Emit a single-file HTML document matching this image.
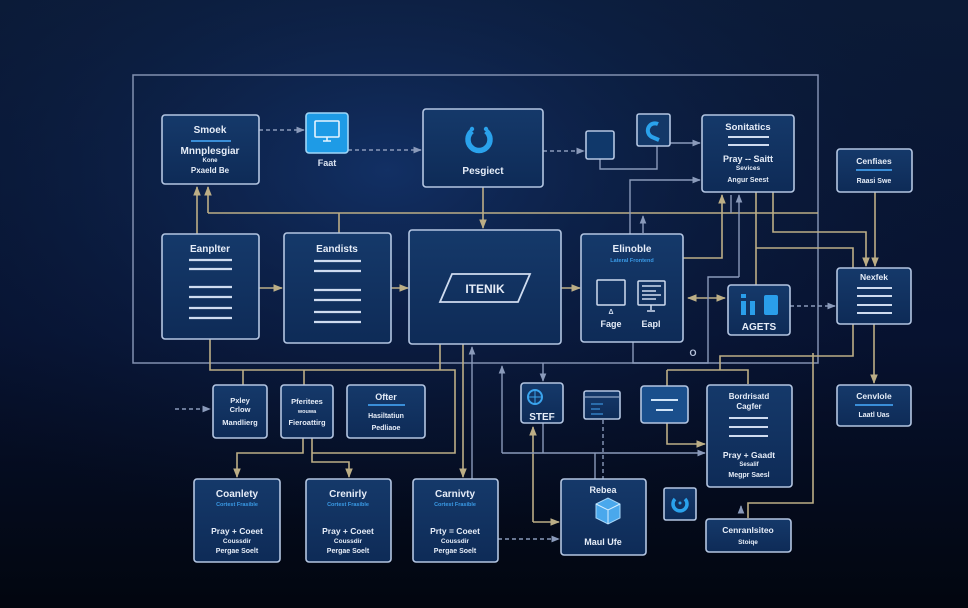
<!DOCTYPE html>
<html><head><meta charset="utf-8"><style>
html,body{margin:0;padding:0;background:#040b1c;}
svg{display:block;}
text{font-family:"Liberation Sans",sans-serif;font-weight:bold;}
</style></head><body>
<svg width="968" height="608" viewBox="0 0 968 608" xmlns="http://www.w3.org/2000/svg">
<defs>
<linearGradient id="bg" x1="0" y1="0" x2="0" y2="1">
<stop offset="0" stop-color="#0b1a36"/><stop offset="0.55" stop-color="#071230"/><stop offset="1" stop-color="#02060f"/>
</linearGradient>
<radialGradient id="glow" cx="0.4" cy="0.28" r="0.6">
<stop offset="0" stop-color="#143670" stop-opacity="0.8"/><stop offset="1" stop-color="#0a1a3a" stop-opacity="0"/>
</radialGradient>
<linearGradient id="box" x1="0" y1="0" x2="0" y2="1">
<stop offset="0" stop-color="#15396a"/><stop offset="1" stop-color="#0e2b57"/>
</linearGradient>
<marker id="at" viewBox="0 0 10 10" refX="9" refY="5" markerWidth="6" markerHeight="6" orient="auto-start-reverse"><path d="M0,1 L10,5 L0,9 z" fill="#bcae86"/></marker>
<marker id="ag" viewBox="0 0 10 10" refX="9" refY="5" markerWidth="6" markerHeight="6" orient="auto-start-reverse"><path d="M0,1 L10,5 L0,9 z" fill="#8a9aba"/></marker>
</defs>
<rect width="968" height="608" fill="url(#bg)"/>
<rect width="968" height="608" fill="url(#glow)"/>

<!-- frame -->
<rect x="133" y="75" width="685" height="288" fill="none" stroke="#8190b0" stroke-width="1.5"/>

<!-- tan connectors -->
<g fill="none" stroke="#bcae86" stroke-width="1.6">
<path d="M197,234 V187" marker-end="url(#at)"/>
<path d="M208,213 V187" marker-end="url(#at)"/>
<path d="M208,213 H818"/>
<path d="M339,213 V233"/>
<path d="M483,187 V228" marker-end="url(#at)"/>
<path d="M683,258 H722 V195" marker-end="url(#at)"/>
<path d="M756,192 V285"/>
<path d="M773,192 V232 H866 V266" marker-end="url(#at)"/>
<path d="M756,248 H853 V268"/>
<path d="M875,192 V266" marker-end="url(#at)"/>
<path d="M259,288 H282" marker-end="url(#at)"/>
<path d="M391,288 H408" marker-end="url(#at)"/>
<path d="M561,288 H580" marker-end="url(#at)"/>
<path d="M688,298 H725" marker-start="url(#at)" marker-end="url(#at)"/>
<path d="M853,324 V356 H720 V370"/>
<path d="M667,370 H748 V384"/>
<path d="M667,370 V444 H705" marker-end="url(#at)"/>
<path d="M874,324 V383" marker-end="url(#at)"/>
<path d="M813,353 V503 H748 V518"/>
<path d="M210,339 V370 H455 V453 H312"/>
<path d="M243,370 V385"/>
<path d="M304,370 V385"/>
<path d="M440,344 V370"/>
<path d="M303,438 V453 H237 V477" marker-end="url(#at)"/>
<path d="M312,438 V462 H349 V477" marker-end="url(#at)"/>
<path d="M463,344 V477" marker-end="url(#at)"/>
<path d="M533,522 V427" marker-end="url(#at)"/>
<path d="M533,522 H559" marker-end="url(#at)"/>
</g>

<!-- gray connectors -->
<g fill="none" stroke="#8a9aba" stroke-width="1.4">
<path d="M259,130 H304" stroke-dasharray="4,3" marker-end="url(#ag)"/>
<path d="M348,150 H421" stroke-dasharray="4,3" marker-end="url(#ag)"/>
<path d="M543,151 H584" stroke-dasharray="4,3" marker-end="url(#ag)"/>
<path d="M600,159 V169 H657 V146"/>
<path d="M670,143 H700" marker-end="url(#ag)"/>
<path d="M630,234 V180 H700" marker-end="url(#ag)"/>
<path d="M643,233 V216" marker-end="url(#ag)"/>
<path d="M731,213 V195"/>
<path d="M739,277 V195" marker-end="url(#ag)"/>
<path d="M739,277 H708 V363 H633 V342"/>
<path d="M790,306 H835" stroke-dasharray="4,3" marker-end="url(#ag)"/>
<path d="M472,479 V347" marker-end="url(#ag)"/>
<path d="M502,453 V366" marker-end="url(#ag)"/>
<path d="M502,453 H705" marker-end="url(#ag)"/>
<path d="M543,363 V381" marker-end="url(#ag)"/>
<path d="M543,423 V453"/>
<path d="M595,453 V479"/>
<path d="M603,420 V479" stroke-dasharray="4,3"/>
<path d="M498,539 H559" stroke-dasharray="4,3" marker-end="url(#ag)"/>
<path d="M175,409 H210" stroke-dasharray="4,3" marker-end="url(#ag)"/>
<path d="M741,512 V506" marker-end="url(#ag)"/>
</g>
<text x="693" y="356" font-size="9" fill="#b8c4dc" text-anchor="middle">O</text>

<!-- boxes -->
<g fill="url(#box)" stroke="#b4c6e2" stroke-width="1.6">
<rect x="162" y="115" width="97" height="69" rx="3"/>
<rect x="423" y="109" width="120" height="78" rx="3"/>
<rect x="586" y="131" width="28" height="28" rx="2" fill="#10386a"/>
<rect x="637" y="114" width="33" height="32" rx="2" fill="#133868"/>
<rect x="702" y="115" width="92" height="77" rx="3"/>
<rect x="837" y="149" width="75" height="43" rx="3"/>
<rect x="162" y="234" width="97" height="105" rx="3"/>
<rect x="284" y="233" width="107" height="110" rx="3"/>
<rect x="409" y="230" width="152" height="114" rx="3"/>
<rect x="581" y="234" width="102" height="108" rx="3"/>
<rect x="728" y="285" width="62" height="50" rx="3"/>
<rect x="837" y="268" width="74" height="56" rx="3"/>
<rect x="213" y="385" width="54" height="53" rx="3"/>
<rect x="281" y="385" width="52" height="53" rx="3"/>
<rect x="347" y="385" width="78" height="53" rx="3"/>
<rect x="521" y="383" width="42" height="40" rx="3"/>
<rect x="584" y="391" width="36" height="28" rx="2"/>
<rect x="641" y="386" width="47" height="37" rx="3" fill="#1a4f8c"/>
<rect x="707" y="385" width="85" height="102" rx="3"/>
<rect x="837" y="385" width="74" height="41" rx="3"/>
<rect x="194" y="479" width="86" height="83" rx="3"/>
<rect x="306" y="479" width="85" height="83" rx="3"/>
<rect x="413" y="479" width="85" height="83" rx="3"/>
<rect x="561" y="479" width="85" height="76" rx="3"/>
<rect x="664" y="488" width="32" height="32" rx="2"/>
<rect x="706" y="519" width="85" height="33" rx="3"/>
</g>
<!-- monitor icon box -->
<rect x="306" y="113" width="42" height="40" rx="3" fill="#1e9be6" stroke="#9fd6f8" stroke-width="1.6"/>
<rect x="315" y="121" width="24" height="16" rx="1" fill="none" stroke="#e6f4ff" stroke-width="1.6"/>
<path d="M323,141 H331 M327,137 V141" stroke="#e6f4ff" stroke-width="1.6"/>
<text x="327" y="166" font-size="9" fill="#dbe4f2" text-anchor="middle">Faat</text>

<!-- Smock -->
<g fill="#e6edf8" text-anchor="middle">
<text x="210" y="133" font-size="10">Smoek</text>
<text x="210" y="154" font-size="10">Mnnplesgiar</text>
<text x="210" y="162" font-size="6">Kone</text>
<text x="210" y="173" font-size="8">Pxaeld Be</text>
</g>
<path d="M191,141 H231" stroke="#3a8ed8" stroke-width="2"/>

<!-- Project -->
<path d="M472,131 A11,11 0 1 0 486,131" fill="none" stroke="#2aa2ec" stroke-width="5.5"/>
<circle cx="472" cy="129" r="2.2" fill="#2aa2ec"/><circle cx="486" cy="129" r="2.2" fill="#2aa2ec"/>
<text x="483" y="174" font-size="10" fill="#e6edf8" text-anchor="middle">Pesgiect</text>

<!-- Q icon -->
<path d="M658,124 A7,7 0 1 0 652,137 L659,140" fill="none" stroke="#2aa2ec" stroke-width="4"/>

<!-- Sonitatics -->
<g fill="#e6edf8" text-anchor="middle">
<text x="748" y="130" font-size="9.5">Sonitatics</text>
<text x="748" y="162" font-size="9">Pray -- Saitt</text>
<text x="748" y="170" font-size="6.5">Sevices</text>
<text x="748" y="182" font-size="7">Angur Seest</text>
</g>
<path d="M728,137 H769 M728,145 H769" stroke="#cfdcf0" stroke-width="2"/>

<!-- Cenfiaes -->
<text x="874" y="164" font-size="8.5" fill="#e6edf8" text-anchor="middle">Cenfiaes</text>
<path d="M856,170 H892" stroke="#3a8ed8" stroke-width="2"/>
<text x="874" y="183" font-size="7" fill="#e6edf8" text-anchor="middle">Raasi Swe</text>

<!-- Eanplter -->
<text x="210" y="252" font-size="10" fill="#e6edf8" text-anchor="middle">Eanplter</text>
<path d="M189,260 H232 M189,269 H232 M189,287 H232 M189,297 H232 M189,308 H232 M189,318 H232" stroke="#cfdcf0" stroke-width="2.2"/>
<!-- Eandists -->
<text x="337" y="252" font-size="10" fill="#e6edf8" text-anchor="middle">Eandists</text>
<path d="M314,261 H361 M314,271 H361 M314,290 H361 M314,300 H361 M314,312 H361 M314,322 H361" stroke="#cfdcf0" stroke-width="2.2"/>
<!-- ITENIK -->
<path d="M440,302 L452,274 L530,274 L518,302 Z" fill="none" stroke="#cfdcf0" stroke-width="1.8"/>
<text x="485" y="293" font-size="12" fill="#e6edf8" text-anchor="middle">ITENIK</text>

<!-- Elinoble -->
<text x="632" y="252" font-size="10" fill="#e6edf8" text-anchor="middle">Elinoble</text>
<text x="632" y="262" font-size="5.5" fill="#3a9ae6" text-anchor="middle">Lateral Frontend</text>
<rect x="597" y="280" width="28" height="25" rx="1" fill="none" stroke="#cfdcf0" stroke-width="1.5"/>
<text x="611" y="314" font-size="7" fill="#cfdcf0" text-anchor="middle">Δ</text>
<rect x="638" y="281" width="27" height="24" rx="1" fill="none" stroke="#cfdcf0" stroke-width="1.5"/>
<path d="M642,286 H661 M642,291 H656 M642,295 H661 M642,299 H656" stroke="#cfdcf0" stroke-width="1.5"/>
<path d="M651,305 V310 M647,311 H655" stroke="#cfdcf0" stroke-width="1.5"/>
<text x="611" y="327" font-size="9" fill="#e6edf8" text-anchor="middle">Fage</text>
<text x="651" y="327" font-size="9" fill="#e6edf8" text-anchor="middle">Eapl</text>

<!-- AGETS -->
<rect x="741" y="301" width="5" height="14" fill="#2a9eea"/>
<rect x="741" y="294" width="5" height="4" fill="#2a9eea"/>
<rect x="750" y="301" width="5" height="14" fill="#2a9eea"/>
<rect x="764" y="295" width="14" height="20" rx="2" fill="#2a9eea"/>
<text x="759" y="330" font-size="10" fill="#e6edf8" text-anchor="middle">AGETS</text>

<!-- Nexfek -->
<text x="874" y="280" font-size="8.5" fill="#e6edf8" text-anchor="middle">Nexfek</text>
<path d="M857,288 H892 M857,296 H892 M857,305 H892 M857,313 H892" stroke="#cfdcf0" stroke-width="2"/>

<!-- row 3 -->
<g fill="#e6edf8" text-anchor="middle">
<text x="240" y="403" font-size="7.5">Pxley</text>
<text x="240" y="412" font-size="7.5">Crlow</text>
<text x="240" y="425" font-size="7.5">Mandlierg</text>
<text x="307" y="404" font-size="7.5">Pferitees</text>
<text x="307" y="413" font-size="5.5">wouwa</text>
<text x="307" y="425" font-size="7.5">Fieroattirg</text>
<text x="386" y="400" font-size="9">Ofter</text>
<text x="386" y="418" font-size="7">Hasiltatiun</text>
<text x="386" y="430" font-size="7">Pedliaoe</text>
</g>
<path d="M368,405 H405" stroke="#3a8ed8" stroke-width="2"/>

<!-- STEF -->
<circle cx="535" cy="397" r="7" fill="none" stroke="#3aa4ee" stroke-width="2"/>
<path d="M528,397 H542 M535,390 V404" stroke="#3aa4ee" stroke-width="1"/>
<text x="542" y="420" font-size="10" fill="#e6edf8" text-anchor="middle">STEF</text>
<!-- browser -->
<path d="M585,397 H619" stroke="#b4c6e2" stroke-width="1"/>
<path d="M591,404 H603 M591,409 H600 M591,414 H603" stroke="#3a8ed8" stroke-width="1.2"/>
<!-- blue box lines -->
<path d="M651,400 H678 M656,410 H673" stroke="#cfe4f8" stroke-width="2"/>

<!-- Bordrisatd -->
<g fill="#e6edf8" text-anchor="middle">
<text x="749" y="399" font-size="8">Bordrisatd</text>
<text x="749" y="409" font-size="8">Cagfer</text>
<text x="749" y="458" font-size="8.5">Pray + Gaadt</text>
<text x="749" y="466" font-size="6">Sesalif</text>
<text x="749" y="477" font-size="7">Megpr Saesl</text>
</g>
<path d="M729,418 H768 M729,427 H768 M729,436 H768" stroke="#cfdcf0" stroke-width="2"/>

<!-- Cenvlole -->
<text x="874" y="399" font-size="8.5" fill="#e6edf8" text-anchor="middle">Cenvlole</text>
<path d="M855,405 H893" stroke="#3a8ed8" stroke-width="2"/>
<text x="874" y="417" font-size="7" fill="#e6edf8" text-anchor="middle">Laatl Uas</text>

<!-- row 4 -->
<g fill="#e6edf8" text-anchor="middle">
<text x="237" y="497" font-size="10">Coanlety</text>
<text x="237" y="534" font-size="8.5">Pray + Coeet</text>
<text x="237" y="543" font-size="6.5">Coussdir</text>
<text x="237" y="553" font-size="7">Pergae Soelt</text>
<text x="348" y="497" font-size="10">Crenirly</text>
<text x="348" y="534" font-size="8.5">Pray + Coeet</text>
<text x="348" y="543" font-size="6.5">Coussdir</text>
<text x="348" y="553" font-size="7">Pergae Soelt</text>
<text x="455" y="497" font-size="10">Carnivty</text>
<text x="455" y="534" font-size="8.5">Prty = Coeet</text>
<text x="455" y="543" font-size="6.5">Coussdir</text>
<text x="455" y="553" font-size="7">Pergae Soelt</text>
</g>
<g fill="#3a9ae6" text-anchor="middle" font-size="5.5">
<text x="237" y="506">Cortest Frasible</text>
<text x="348" y="506">Cortest Frasible</text>
<text x="455" y="506">Cortest Frasible</text>
</g>

<!-- Rebea -->
<text x="603" y="493" font-size="9" fill="#e6edf8" text-anchor="middle">Rebea</text>
<path d="M596,504 L608,498 L620,504 L620,518 L608,524 L596,518 Z" fill="#4aa8ec" stroke="#a8d8fa" stroke-width="1"/>
<path d="M596,504 L608,510 L620,504 M608,510 V524" fill="none" stroke="#d6eeff" stroke-width="1"/>
<text x="603" y="545" font-size="9" fill="#e6edf8" text-anchor="middle">Maul Ufe</text>

<!-- ring icon -->
<path d="M675,499 A7,7 0 1 0 685,499" fill="none" stroke="#2aa2ec" stroke-width="3.5"/>
<circle cx="680" cy="503" r="1.5" fill="#2aa2ec"/>

<!-- Cenranlsiteo -->
<text x="748" y="533" font-size="8.5" fill="#e6edf8" text-anchor="middle">Cenranlsiteo</text>
<text x="748" y="544" font-size="6.5" fill="#e6edf8" text-anchor="middle">Stoiqe</text>
</svg>
</body></html>
